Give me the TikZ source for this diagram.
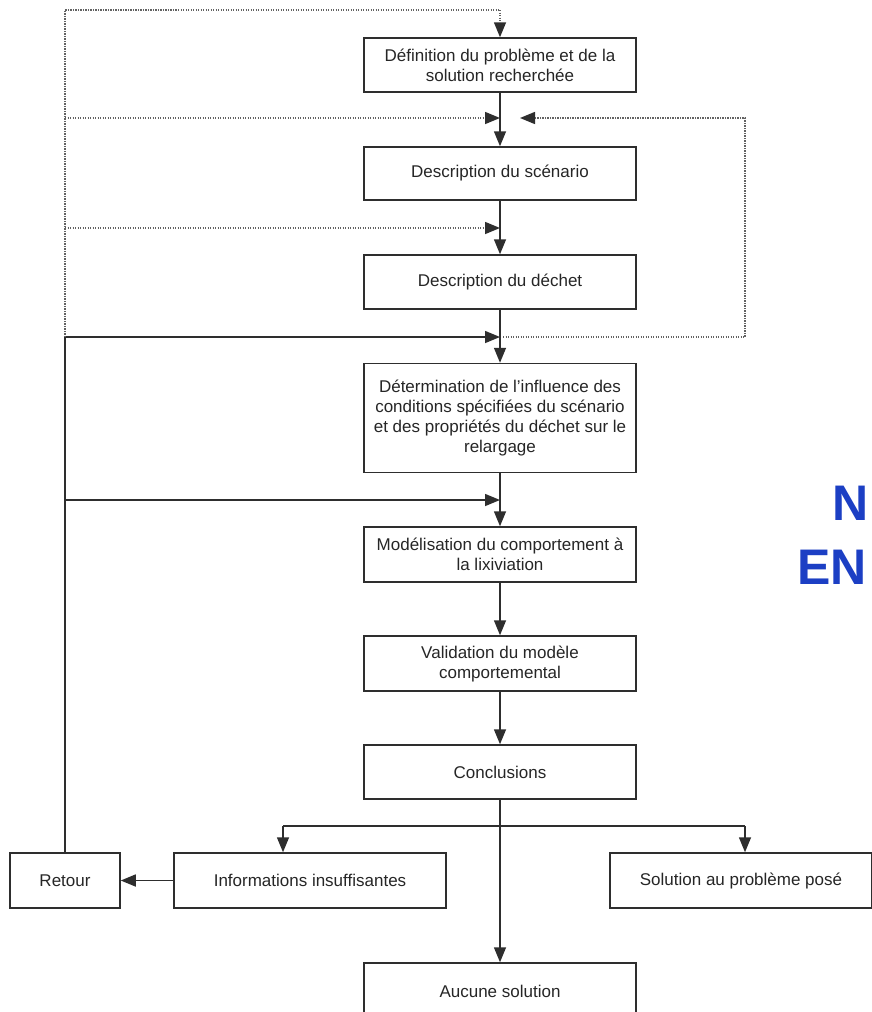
\documentclass[tikz,border=0pt]{standalone}
\usepackage{fontspec}
\setmainfont{Liberation Sans}
\usetikzlibrary{arrows.meta}
\definecolor{ink}{HTML}{2E2E2E}
\definecolor{txt}{HTML}{262626}
\definecolor{slideblue}{HTML}{1C3FC4}
\tikzset{
  box/.style={draw=ink, line width=1.5pt, fill=white, text=txt, align=center,
    font=\fontsize{17}{20}\selectfont, inner sep=2pt},
  wide/.style={box, minimum width=272pt},
  link/.style={draw=ink, line width=1.5pt, -{Triangle[length=15pt,width=12pt]}},
  plain/.style={draw=ink, line width=1.5pt},
  dots/.style={draw=ink!75, line width=1.5pt, dash pattern=on 1.4pt off 1.1pt},
  dotlink/.style={dots, -{Triangle[length=15pt,width=12pt,color=ink]}},
  bigword/.style={text=slideblue, font=\fontsize{50}{50}\bfseries\selectfont, inner sep=0pt}
}
\begin{document}
\begin{tikzpicture}[x=1pt,y=-1pt]
\useasboundingbox (0,0) rectangle (872,1012);
\begin{scope}
\clip (0,0) rectangle (872,1012);
\fill[white] (0,0) rectangle (872,1012);

% side words from the slide
\node[bigword, anchor=base east] (wN) at (869,520) {N};
\node[bigword, anchor=base east] (wEN) at (867,584) {EN};

% boxes
\node[wide, minimum height=54pt] (b1) at (500,65) {Définition du problème et de la\\solution recherchée};
\node[wide, minimum height=53pt] (b2) at (500,173.5) {Description du scénario};
\node[wide, minimum height=54pt] (b3) at (500,282) {Description du déchet};
\node[wide, minimum height=109pt] (b4) at (500,418) {Détermination de l'influence des\\conditions spécifiées du scénario\\et des propriétés du déchet sur le\\relargage};
\node[wide, minimum height=55pt] (b5) at (500,554.5) {Modélisation du comportement à\\la lixiviation};
\node[wide, minimum height=55pt] (b6) at (500,663.5) {Validation du modèle\\comportemental};
\node[wide, minimum height=54pt] (b7) at (500,772) {Conclusions};
\node[box, minimum width=110pt, minimum height=55pt] (ret) at (65,880.5) {Retour};
\node[wide, minimum height=55pt] (inf) at (310,880.5) {Informations insuffisantes};
\node[box, minimum width=262pt, minimum height=55pt] (sol) at (741,880.5) {Solution au problème posé};
\node[wide, minimum height=56pt] (auc) at (500,991) {Aucune solution};

% coordinates
\coordinate (tl) at (65,10);
\coordinate (tr) at (500,10);
\coordinate (l1) at (65,118);
\coordinate (m1) at (500,118);
\coordinate (r1) at (520,118);
\coordinate (rc1) at (745,118);
\coordinate (l2) at (65,228);
\coordinate (m2) at (500,228);
\coordinate (l3) at (65,337);
\coordinate (m3) at (500,337);
\coordinate (m3r) at (503,337);
\coordinate (rc3) at (745,337);
\coordinate (l4) at (65,500);
\coordinate (m4) at (500,500);
\coordinate (bl) at (283,826);
\coordinate (bm) at (500,826);
\coordinate (br) at (745,826);

% main chain
\draw[link] (b1) -- (b2);
\draw[link] (b2) -- (b3);
\draw[link] (b3) -- (b4);
\draw[link] (b4) -- (b5);
\draw[link] (b5) -- (b6);
\draw[link] (b6) -- (b7);
\draw[link] (b7) -- (auc);

% branches from conclusions
\draw[plain] (bl) -- (br);
\draw[link] (bl) -- (bl |- inf.north);
\draw[link] (br) -- (br |- sol.north);
\draw[link] (inf) -- (ret);

% return loop (solid)
\draw[plain] (ret.north) -- (l3);
\draw[link] (l3) -- (m3);
\draw[link] (l4) -- (m4);

% dotted feedback loops
\draw[dots] (l3) -- (tl) -- (tr);
\draw[dotlink] (tr) -- (b1.north);
\draw[dotlink] (l1) -- (m1);
\draw[dotlink] (l2) -- (m2);
\draw[dotlink] (m3r) -- (rc3) -- (rc1) -- (r1);
\end{scope}
\end{tikzpicture}
\end{document}
